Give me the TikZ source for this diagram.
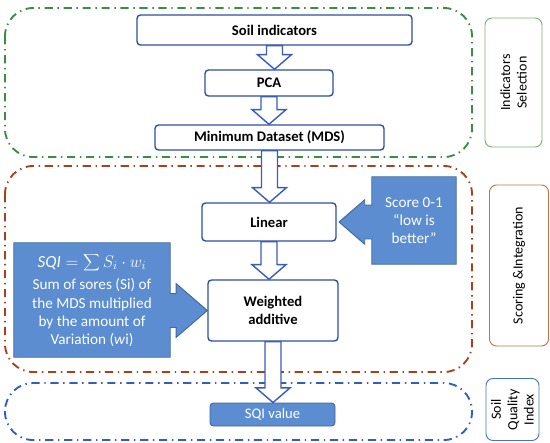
\documentclass[tikz,border=0pt]{standalone}
\usepackage{fontspec}
\setmainfont{Carlito}
\usetikzlibrary{positioning,calc,backgrounds}
\definecolor{BoxBlue}{HTML}{2F4FA5}
\definecolor{ArrBlue}{HTML}{3A5CBF}
\definecolor{FillBlue}{HTML}{5B8DD0}
\definecolor{FillEdge}{HTML}{41689C}
\definecolor{ZGreen}{HTML}{3C8C46}
\definecolor{ZRed}{HTML}{A8401C}
\definecolor{ZBlue}{HTML}{2F5FC0}
\definecolor{LGreen}{HTML}{78B07A}
\definecolor{LRed}{HTML}{C0704A}
\definecolor{LBlue}{HTML}{4A72C4}
\newcommand{\pu}{0.3mm}
% hollow block arrow between two stacked boxes
\newcommand{\flowarrow}[2]{%
  \draw[blockarrow] let \p1=(#1.south), \p2=(#2.north) in
    (\x1-6.8pt,\y1) -- (\x1-6.8pt,\y2+12.5pt) -- (\x1-14.5pt,\y2+12.5pt) -- (\x1,\y2)
    -- (\x1+14.5pt,\y2+12.5pt) -- (\x1+6.8pt,\y2+12.5pt) -- (\x1+6.8pt,\y1) -- cycle;}

\begin{document}
\begin{tikzpicture}[x=0.3mm, y=-0.3mm,
  every node/.style={font=\fontsize{12}{14}\selectfont, text=black, inner sep=0pt},
  stage/.style={draw=BoxBlue, fill=white, rounded corners=3pt, line width=1.2pt,
                align=center, font=\fontsize{12.5}{15}\selectfont\bfseries},
  result/.style={draw=FillEdge, fill=FillBlue, rounded corners=3pt, line width=0.8pt,
                 text=white, font=\fontsize{12.5}{15}\selectfont},
  note/.style={align=center, text=white, font=\fontsize{13}{15.5}\selectfont},
  callout/.style={draw=FillEdge, fill=FillBlue, line width=0.8pt},
  tag/.style={rotate=90, rounded corners=6pt, line width=0.8pt, align=center,
              font=\fontsize{12}{14}\selectfont},
  zone/.style={line width=1.6pt, rounded corners=24pt,
               dash pattern=on 7pt off 4pt on 1.2pt off 4pt},
  blockarrow/.style={draw=ArrBlue, fill=white, line width=1.2pt}]
\useasboundingbox (0,0) rectangle (550,442);

\node[stage, minimum width=275*\pu, minimum height=30*\pu] (soil) at (274.5,30) {Soil indicators};
\node[stage, minimum width=128*\pu, minimum height=26*\pu] (pca) at (269,83) {PCA};
\node[stage, minimum width=229*\pu, minimum height=25*\pu] (mds) at (269.5,137.5) {Minimum Dataset (MDS)};
\node[stage, minimum width=134*\pu, minimum height=38*\pu] (linear) at (269,222) {Linear};
\node[stage, minimum width=130*\pu, minimum height=61*\pu] (weighted) at (273,310.5) {Weighted\\additive};
\node[result, minimum width=125*\pu, minimum height=23*\pu] (sqival) at (272.5,414.5) {SQI value};

\node[note, minimum width=84*\pu, minimum height=87*\pu] (score) at (414,220.5)
  {Score 0-1\\“low is\\better”};
\node[note, minimum width=156*\pu, minimum height=114*\pu] (sqi) at (92,300)
  {{\fontsize{14.5}{16}\selectfont$\displaystyle \mathit{SQI}=\sum S_i\cdot w_i$}\\[4pt]
   Sum of sores (Si) of\\the MDS multiplied\\by the amount of\\Variation (\textit{w}i)};

\node[tag, draw=LGreen, minimum width=129*\pu, minimum height=57*\pu] (seltag) at (513.5,82.5)
  {Indicators\\Selection};
\node[tag, draw=LRed, minimum width=161*\pu, minimum height=59*\pu] (scoretag) at (519,265.5)
  {Scoring \&Integration};
\node[tag, draw=LBlue, minimum width=62*\pu, minimum height=53*\pu] (indextag) at (512.5,409.5)
  {Soil\\Quality\\Index};

\begin{scope}[on background layer]
  \draw[zone, draw=ZGreen] (5,8) rectangle (472,157);
  \draw[zone, draw=ZRed] (5,166) rectangle (472,372);
  \draw[zone, draw=ZBlue] (5,383) rectangle (472,440);
  % callout boxes with their pointers
  \draw[callout] let \p1=(score.north west), \p2=(score.south east), \p3=(linear.east) in
    (\x1,\y1) -- (\x2,\y1) -- (\x2,\y2) -- (\x1,\y2) -- (\x1,\y3-14.5pt)
    -- (\x1-6pt,\y3-14.5pt) -- (\x1-6pt,\y3-19pt) -- (\x3+2pt,\y3)
    -- (\x1-6pt,\y3+19pt) -- (\x1-6pt,\y3+14.5pt) -- (\x1,\y3+14.5pt) -- cycle;
  \draw[callout] let \p1=(sqi.north east), \p2=(sqi.south west), \p3=(weighted.west) in
    (\x1,\y1) -- (\x2,\y1) -- (\x2,\y2) -- (\x1,\y2) -- (\x1,\y3-14.5pt)
    -- (\x1+5pt,\y3-14.5pt) -- (\x1+5pt,\y3-23pt) -- (\x3,\y3)
    -- (\x1+5pt,\y3+23pt) -- (\x1+5pt,\y3+14.5pt) -- (\x1,\y3+14.5pt) -- cycle;
\end{scope}

\flowarrow{soil}{pca}
\flowarrow{pca}{mds}
\flowarrow{mds}{linear}
\flowarrow{linear}{weighted}
\flowarrow{weighted}{sqival}
\end{tikzpicture}
\end{document}
